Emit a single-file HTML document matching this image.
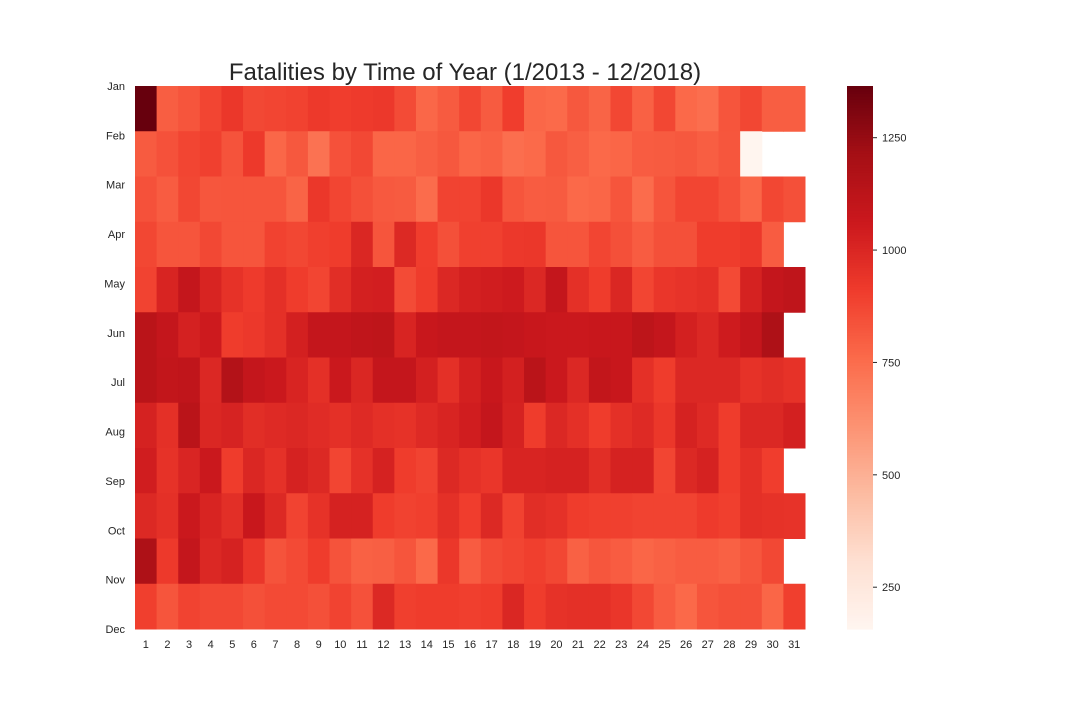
<!DOCTYPE html>
<html><head><meta charset="utf-8"><style>
body{margin:0;background:#fff;font-family:"Liberation Sans",sans-serif}
</style></head><body>
<svg id="chart" width="1080" height="720" xmlns="http://www.w3.org/2000/svg">
<rect width="1080" height="720" fill="#fff"/>
<text x="465" y="80" text-anchor="middle" font-size="24" fill="#262626" font-family="Liberation Sans, sans-serif">Fatalities by Time of Year (1/2013 - 12/2018)</text>
<g id="cells"></g><g id="xl"></g><g id="yl"></g><g id="cb"></g>
</svg>
<script>
const months=["Jan","Feb","Mar","Apr","May","Jun","Jul","Aug","Sep","Oct","Nov","Dec"];
const days=[1,2,3,4,5,6,7,8,9,10,11,12,13,14,15,16,17,18,19,20,21,22,23,24,25,26,27,28,29,30,31];
const cbTicks=[250,500,750,1000,1250];
const jan=[1365,800,830,880,930,870,880,890,920,905,915,925,860,770,810,875,810,905,770,760,820,780,875,790,875,765,745,830,875,800,800];
const feb=[810,840,880,895,835,920,770,820,730,840,870,775,775,795,820,775,790,745,760,820,795,765,775,805,810,820,800,825,160,null,null];
const mar=[840,805,875,825,830,830,830,780,930,880,845,815,810,755,885,885,930,830,805,810,765,775,830,755,830,880,880,840,775,875,845];
const apr=[875,830,830,870,830,830,890,875,900,910,1000,830,990,905,845,895,895,925,930,830,830,880,845,805,845,845,910,910,925,805,null];
const may=[885,1010,1090,1010,950,915,960,910,880,970,1030,1035,860,910,995,1030,1040,1055,995,1090,960,910,1000,880,935,945,960,865,1020,1090,1110];
const jun=[1130,1090,1025,1055,910,925,960,1030,1090,1090,1105,1115,1010,1075,1090,1090,1100,1090,1075,1065,1065,1075,1075,1120,1090,1030,995,1050,1090,1180,null];
const jul=[1130,1100,1105,995,1160,1090,1065,1010,960,1065,1000,1090,1090,1030,960,1030,1075,1030,1130,1065,995,1100,1075,960,910,995,995,995,950,970,950];
const aug=[1020,960,1130,1000,1015,970,985,995,975,960,985,960,950,985,1010,1040,1090,1020,910,995,960,910,960,985,930,1020,985,910,995,995,1030];
const sep=[1040,950,1005,1065,910,1000,955,1020,990,880,955,1020,910,885,990,955,935,1010,1010,1020,1020,970,1020,1020,880,990,1020,910,960,905,null];
const oct=[990,960,1065,1010,965,1075,990,885,950,1020,1020,910,890,900,960,905,990,890,970,955,910,900,895,885,885,885,915,900,960,950,945];
const nov=[1180,920,1090,995,1020,935,835,865,910,835,790,795,830,765,930,805,860,880,900,875,790,825,805,775,790,805,805,790,825,870,null];
const dec=[900,830,885,870,870,845,865,865,845,885,840,990,900,910,910,900,910,1000,910,950,960,960,935,870,805,765,830,845,845,775,900];
const values=[jan,feb,mar,apr,may,jun,jul,aug,sep,oct,nov,dec];
const vmin=157,vmax=1365;
const X0=135,X1=805,Y0=86,Y1=629;
const cw=(X1-X0)/days.length, ch=(Y1-Y0)/months.length;
const xS=i=>X0+i*cw, yS=j=>Y0+j*ch;
const stops=[[255,245,240],[254,224,210],[252,187,161],[252,146,114],[251,106,74],[239,59,44],[203,24,29],[165,15,21],[103,0,13]];
function col(v){let t=Math.max(0,Math.min(1,(v-vmin)/(vmax-vmin)))*8;let i=Math.min(7,Math.floor(t)),f=t-i;
const a=stops[i],b=stops[i+1];return `rgb(${a.map((c,k)=>Math.round(c+(b[k]-c)*f)).join(',')})`;}
const NS="http://www.w3.org/2000/svg";
function mk(t,attrs,parent){const e=document.createElementNS(NS,t);for(const k in attrs)e.setAttribute(k,attrs[k]);document.getElementById(parent).appendChild(e);return e;}
values.forEach((row,j)=>row.forEach((v,i)=>{if(v==null)return;
const r=mk('rect',{x:xS(i),y:yS(j),width:cw+0.5,height:ch+0.5,fill:col(v)},'cells');

}));
days.forEach((d,i)=>{const t=mk('text',{x:xS(i)+cw/2,y:648,'text-anchor':'middle','font-size':11,fill:'#262626'},'xl');t.textContent=d;

});
months.forEach((m,j)=>{const t=mk('text',{x:125,y:Y0+j*(Y1-Y0)/(months.length-1)+4,'text-anchor':'end','font-size':11,fill:'#262626'},'yl');t.textContent=m;

});
// colorbar
const CX=847,CW=26;
for(let k=0;k<200;k++){const v=vmax-(vmax-vmin)*(k+0.5)/200;const r=mk('rect',{x:CX,y:Y0+k*(Y1-Y0)/200,width:CW,height:(Y1-Y0)/200+0.6,fill:col(v)},'cb');

}
const cy=v=>Y0+(vmax-v)/(vmax-vmin)*(Y1-Y0);
cbTicks.forEach(v=>{const l=mk('line',{x1:CX+CW,x2:CX+CW+4,y1:cy(v),y2:cy(v),stroke:'#262626','stroke-width':1},'cb');


const t=mk('text',{x:CX+CW+9,y:cy(v)+4,'font-size':11,fill:'#262626'},'cb');t.textContent=v;

});
</script>
</body></html>
